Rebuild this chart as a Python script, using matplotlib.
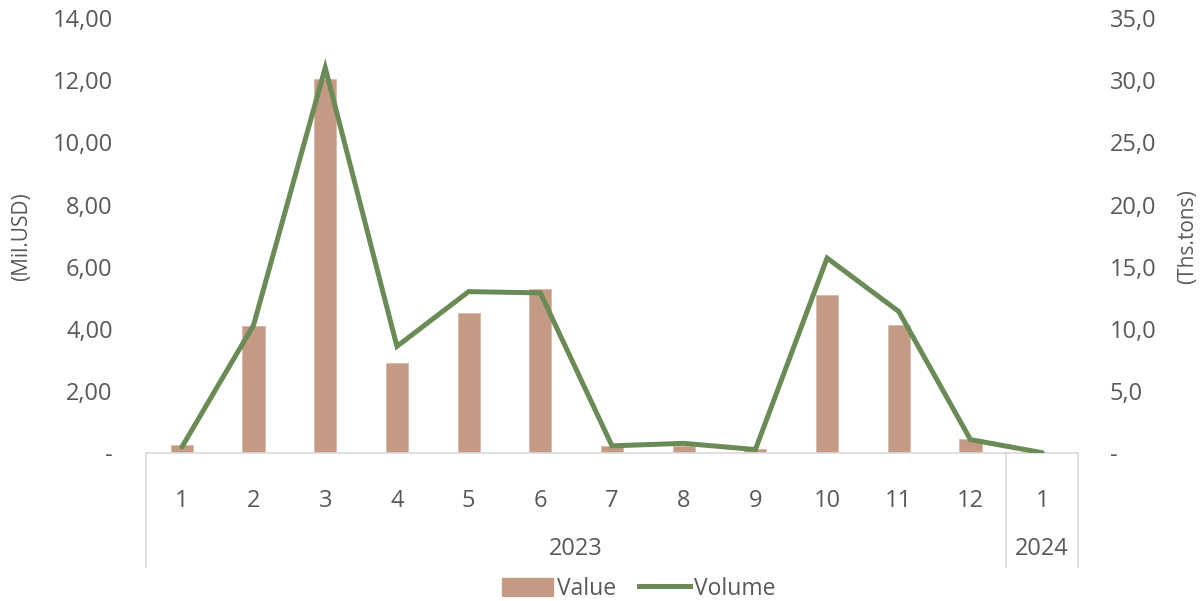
import matplotlib
matplotlib.use("Agg")
import matplotlib.pyplot as plt
from matplotlib.lines import Line2D
from matplotlib.patches import Patch
from matplotlib.ticker import FuncFormatter
import matplotlib.transforms as mtransforms

plt.rcParams['font.family'] = ['Open Sans', 'DejaVu Sans']

months = ["1", "2", "3", "4", "5", "6", "7", "8", "9", "10", "11", "12", "1"]
years = ["2023", "2024"]
year_counts = [12, 1]
value_musd = [0.27, 4.10, 12.05, 2.92, 4.52, 5.30, 0.24, 0.24, 0.15, 5.08, 4.14, 0.45, 0.0]
volume_kt = [0.5, 10.3, 31.0, 8.6, 13.0, 12.9, 0.6, 0.8, 0.3, 15.7, 11.4, 1.1, 0.05]

TXT = "#595959"
BAR = "#C49A85"
LINE = "#6A8A56"
GRID = "#D9D9D9"

W, H = 1201, 601
fig = plt.figure(figsize=(W / 100, H / 100), dpi=100)
x0, x1, y_top, y_base = 146, 1078, 18, 453.3
ax = fig.add_axes([x0 / W, (H - y_base) / H, (x1 - x0) / W, (y_base - y_top) / H])
ax2 = ax.twinx()

xs = list(range(len(months)))
ax.bar(xs, value_musd, width=0.31, color=BAR, edgecolor="#D9B9A9", linewidth=0.6, zorder=2)
ax2.plot(xs, volume_kt, color=LINE, linewidth=3.6, solid_capstyle="round",
         solid_joinstyle="miter", zorder=3)

ax.set_xlim(-0.5, len(months) - 0.5)
ax.set_ylim(0, 14)
ax2.set_ylim(0, 35)
ax.set_yticks([0, 2, 4, 6, 8, 10, 12, 14])
ax2.set_yticks([0, 5, 10, 15, 20, 25, 30, 35])


def fmt_left(v, pos):
    return "-" if abs(v) < 1e-9 else f"{v:.2f}".replace(".", ",")


def fmt_right(v, pos):
    return "-" if abs(v) < 1e-9 else f"{v:.1f}".replace(".", ",")


ax.yaxis.set_major_formatter(FuncFormatter(fmt_left))
ax2.yaxis.set_major_formatter(FuncFormatter(fmt_right))

for a in (ax, ax2):
    for s in a.spines.values():
        s.set_visible(False)
    a.tick_params(axis="y", length=0, labelsize=17, labelcolor=TXT)
ax.tick_params(axis="y", pad=24)
ax2.tick_params(axis="y", pad=23)
ax.spines["bottom"].set_visible(True)
ax.spines["bottom"].set_color(GRID)
ax.spines["bottom"].set_linewidth(1.2)

ax.set_xticks(xs)
ax.set_xticklabels(months)
ax.tick_params(axis="x", length=0, pad=26, labelsize=17, labelcolor=TXT)

# category separators
bottom_frac = (y_base - 567) / (y_base - y_top)
trans = mtransforms.blended_transform_factory(ax.transData, ax.transAxes)
bounds = [-0.5]
acc = -0.5
for c in year_counts:
    acc += c
    bounds.append(acc)
for b in bounds:
    ax.add_line(Line2D([b, b], [0, bottom_frac], transform=trans, color=GRID,
                       linewidth=1.2, clip_on=False))

year_y = (y_base - 549) / (y_base - y_top)
start = -0.5
for yr, c in zip(years, year_counts):
    ax.text(start + c / 2, year_y, yr, transform=trans, ha="center", va="center",
            fontsize=17, color=TXT)
    start += c

fig.text(22 / W, 1 - 237 / H, "(Mil.USD)", rotation=90, ha="center", va="center",
         fontsize=15, color=TXT)
fig.text(1188 / W, 1 - 237 / H, "(Ths.tons)", rotation=90, ha="center", va="center",
         fontsize=15, color=TXT)

handles = [Patch(facecolor=BAR, edgecolor=BAR), Line2D([0], [0], color=LINE, linewidth=3.6)]
fig.legend(handles, ["Value", "Volume"], loc="center", bbox_to_anchor=(639 / W, 1 - 589 / H),
           ncol=2, frameon=False, fontsize=16.5, labelcolor=TXT, handlelength=2.2,
           handleheight=0.85, handletextpad=0.2, columnspacing=1.0)

fig.savefig("out.png", dpi=100)
